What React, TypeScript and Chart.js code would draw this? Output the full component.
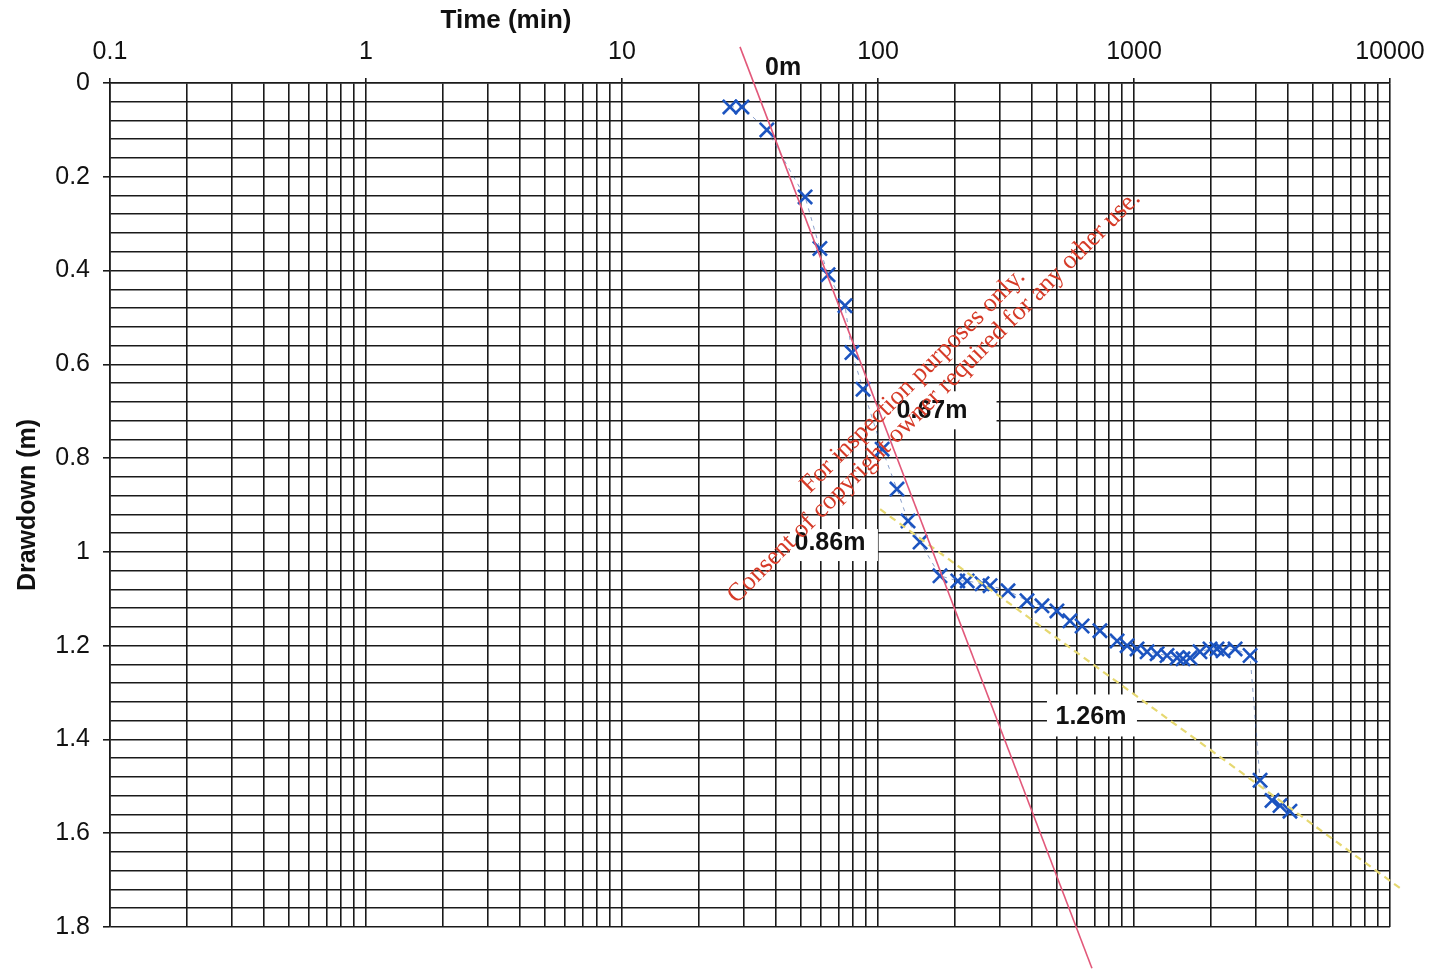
import React, { useEffect, useRef } from 'react';
import { Chart, registerables } from 'chart.js';

Chart.register(...registerables);

// Observed drawdown data (time in minutes, drawdown in metres)
const timeMin = [
  26.4, 29.4, 36.8, 51.9, 59.3, 63.8, 74.3, 79.1, 87.4, 103.8,
  118.6, 131, 146, 174.6, 205, 223, 255, 274, 322, 382,
  437, 500, 562, 627, 736, 859, 940, 1028, 1125, 1231,
  1346, 1473, 1554, 1655, 1810, 1981, 2110, 2228, 2483, 2840,
  3108, 3461, 3718, 4066,
];
const drawdownM = [
  0.051, 0.051, 0.1, 0.243, 0.353, 0.409, 0.475, 0.575, 0.653, 0.781,
  0.866, 0.934, 0.979, 1.051, 1.062, 1.062, 1.068, 1.072, 1.083, 1.104,
  1.115, 1.126, 1.147, 1.158, 1.168, 1.19, 1.2, 1.207, 1.213, 1.217,
  1.221, 1.226, 1.228, 1.226, 1.213, 1.207, 1.207, 1.211, 1.207, 1.221,
  1.487, 1.53, 1.541, 1.553,
];

// Fitted straight lines (Cooper-Jacob)
const redLineTime = [28.9, 685];
const redLineDrawdown = [-0.077, 1.888];
const yellowLineTime = [101.9, 10940];
const yellowLineDrawdown = [0.909, 1.717];

// Annotations
const noteText = ['0m', '0.67m', '0.86m', '1.26m'];
const noteTime = [42.6, 162.6, 64.9, 679];
const noteDepth = [-0.034, 0.698, 0.979, 1.351];

// Axis ticks
const xTickLabels = ['0.1', '1', '10', '100', '1000', '10000'];
const xDecades = [0.1, 1, 10, 100, 1000];
const yTickLabels = ['0', '0.2', '0.4', '0.6', '0.8', '1', '1.2', '1.4', '1.6', '1.8'];
const yMinorStep = 0.04;

const xTitle = 'Time (min)';
const yTitle = 'Drawdown (m)';
const watermarkLines = [
  'For inspection purposes only.',
  'Consent of copyright owner required for any other use.',
];

const FONT = '"Liberation Sans", Arial, sans-serif';
const GRID = '#1a1a1a';

const isMajorX = (v: number) => Math.abs(Math.log10(v) - Math.round(Math.log10(v))) < 1e-6;
const isMajorY = (v: number) => Math.abs(v / 0.2 - Math.round(v / 0.2)) < 1e-6;

// white label boxes: [dx, dy, w, h] relative to the text anchor
const noteBoxes: (number[] | null)[] = [null, [6, 0, 117, 38], [4, 3, 88, 32], [1, -1, 90, 42]];

const overlayPlugin = {
  id: 'overlay',
  beforeDatasetsDraw(chart: any) {
    const { ctx, scales } = chart;
    const x = scales.x;
    const y = scales.y;
    ctx.save();
    ctx.font = `bold 25px ${FONT}`;
    ctx.textAlign = 'center';
    ctx.textBaseline = 'middle';
    noteText.forEach((t, i) => {
      const px = x.getPixelForValue(noteTime[i]);
      const py = y.getPixelForValue(noteDepth[i]);
      const b = noteBoxes[i];
      if (b) {
        ctx.fillStyle = '#ffffff';
        ctx.fillRect(px + b[0] - b[2] / 2, py + b[1] - b[3] / 2, b[2], b[3]);
      }
      ctx.fillStyle = '#111111';
      ctx.fillText(t, px, py + 1);
    });
    ctx.restore();
  },
  afterDraw(chart: any) {
    const { ctx } = chart;
    ctx.save();
    // axis titles
    ctx.fillStyle = '#111111';
    ctx.font = `bold 26px ${FONT}`;
    ctx.textAlign = 'center';
    ctx.textBaseline = 'middle';
    ctx.fillText(xTitle, 506, 21);
    ctx.font = `bold 25px ${FONT}`;
    ctx.save();
    ctx.translate(28, 505);
    ctx.rotate(-Math.PI / 2);
    ctx.fillText(yTitle, 0, 0);
    ctx.restore();
    // watermark
    ctx.fillStyle = '#d63b28';
    ctx.font = '26px "Liberation Serif", "Times New Roman", serif';
    const centers = [
      [913, 381],
      [934, 397],
    ];
    watermarkLines.forEach((line, i) => {
      ctx.save();
      ctx.translate(centers[i][0], centers[i][1]);
      ctx.rotate(-Math.PI / 4);
      ctx.fillText(line, 0, 0);
      ctx.restore();
    });
    ctx.restore();
  },
};

export default function App() {
  const canvasRef = useRef<HTMLCanvasElement | null>(null);

  useEffect(() => {
    if (!canvasRef.current) return;
    const observed = timeMin.map((t, i) => ({ x: t, y: drawdownM[i] }));
    const red = redLineTime.map((t, i) => ({ x: t, y: redLineDrawdown[i] }));
    const yellow = yellowLineTime.map((t, i) => ({ x: t, y: yellowLineDrawdown[i] }));

    const chart = new Chart(canvasRef.current, {
      type: 'scatter',
      data: {
        datasets: [
          {
            label: 'Early fit',
            data: red,
            showLine: true,
            borderColor: '#e2587a',
            borderWidth: 1.6,
            pointRadius: 0,
            clip: false,
          } as any,
          {
            label: 'Late fit',
            data: yellow,
            showLine: true,
            borderColor: '#e6d870',
            borderWidth: 2.2,
            borderDash: [7, 5],
            pointRadius: 0,
            clip: false,
          } as any,
          {
            label: 'Observed',
            data: observed,
            showLine: true,
            borderColor: 'rgba(40,80,160,0.55)',
            borderWidth: 1,
            borderDash: [4, 5],
            pointStyle: 'crossRot',
            pointRadius: 10,
            pointBorderWidth: 2.6,
            pointBorderColor: '#1c54c0',
            pointBackgroundColor: '#1c54c0',
          } as any,
        ],
      },
      options: {
        animation: false,
        responsive: false,
        layout: { padding: { left: 0, top: 0, right: 41, bottom: 49 } },
        plugins: {
          legend: { display: false },
          tooltip: { enabled: false },
        },
        scales: {
          x: {
            type: 'logarithmic',
            position: 'top',
            min: 0.1,
            max: 10000,
            afterBuildTicks: (scale: any) => {
              const ticks: { value: number }[] = [];
              xDecades.forEach((d) => {
                for (let k = 1; k <= 9; k++) ticks.push({ value: k * d });
              });
              ticks.push({ value: 10000 });
              scale.ticks = ticks;
            },
            afterFit: (scale: any) => {
              scale.height = 83;
              scale.paddingLeft = 0;
              scale.paddingRight = 0;
            },
            ticks: {
              autoSkip: false,
              maxRotation: 0,
              minRotation: 0,
              padding: 11,
              color: '#111111',
              font: { family: FONT, size: 25 },
              callback: (v: any) => {
                const n = Number(v);
                if (!isMajorX(n)) return '';
                const idx = Math.round(Math.log10(n)) + 1;
                return xTickLabels[idx] ?? '';
              },
            },
            grid: {
              color: GRID,
              lineWidth: 1.6,
              tickLength: 5,
              tickColor: (c: any) => (c.tick && isMajorX(c.tick.value) ? GRID : 'rgba(0,0,0,0)'),
            },
            border: { display: true, color: GRID, width: 1.6 },
          },
          y: {
            type: 'linear',
            reverse: true,
            min: 0,
            max: 1.8,
            afterBuildTicks: (scale: any) => {
              const ticks: { value: number }[] = [];
              const n = Math.round(1.8 / yMinorStep);
              for (let i = 0; i <= n; i++) ticks.push({ value: Number((i * yMinorStep).toFixed(4)) });
              scale.ticks = ticks;
            },
            afterFit: (scale: any) => {
              scale.width = 110;
              scale.paddingTop = 0;
              scale.paddingBottom = 0;
            },
            ticks: {
              autoSkip: false,
              padding: 13,
              color: '#111111',
              font: { family: FONT, size: 25 },
              callback: (v: any) => {
                const n = Number(v);
                if (!isMajorY(n)) return '';
                return yTickLabels[Math.round(n / 0.2)] ?? '';
              },
            },
            grid: {
              color: GRID,
              lineWidth: 1.6,
              tickLength: 7,
              tickColor: (c: any) => (c.tick && isMajorY(c.tick.value) ? GRID : 'rgba(0,0,0,0)'),
            },
            border: { display: true, color: GRID, width: 1.6 },
          },
        },
      } as any,
      plugins: [overlayPlugin],
    });
    return () => chart.destroy();
  }, []);

  return (
    <div style={{ position: 'absolute', left: 0, top: 0, width: 1431, height: 976, background: '#fff' }}>
      <canvas ref={canvasRef} width={1431} height={976} style={{ display: 'block' }} />
    </div>
  );
}
